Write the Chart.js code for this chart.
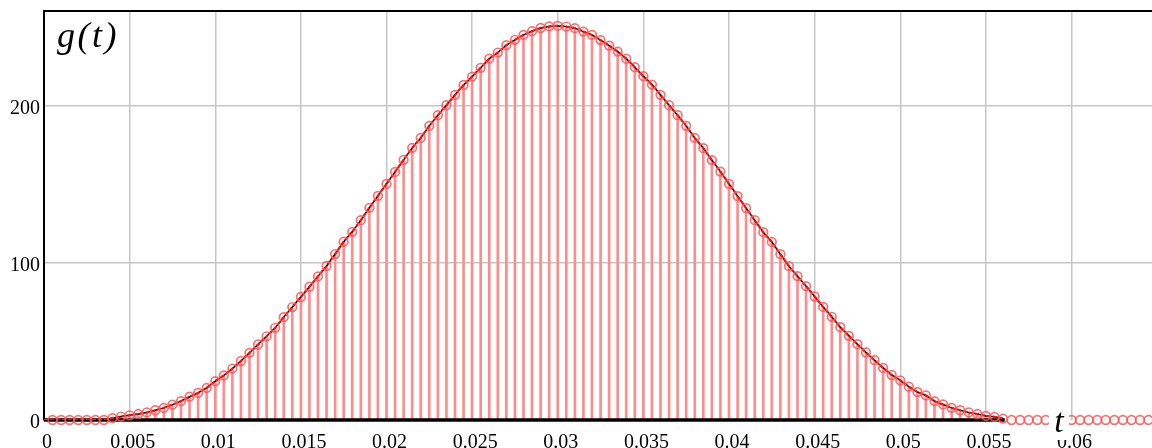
<!DOCTYPE html>
<html><head><meta charset="utf-8">
<script src="https://cdn.jsdelivr.net/npm/chart.js@4/dist/chart.umd.min.js"></script>
<style>
html,body{margin:0;padding:0;background:#fff;}
#wrap{position:relative;width:1152px;height:448px;overflow:hidden;}
canvas{display:block;}
.lbl{position:absolute;font-family:"Liberation Serif","Times New Roman",serif;font-style:italic;color:#000;line-height:1;white-space:nowrap;}
</style></head><body>
<div id="wrap"><canvas id="c" width="1152" height="448"></canvas>
<div class="lbl" id="gt" style="left:57px;top:17px;font-size:36px;letter-spacing:2.5px;">g(t)</div>
<div class="lbl" id="tl" style="left:1049px;top:404px;width:20px;height:36px;background:#fff;font-size:34px;text-align:center;">t</div>
</div>
<script>
// sample step of t (s)
const stepT = 0.0005;
const sampleG = [
  0, 0, 0, 0, 0, 0, 0, 1.2, 2.2, 3.0,
  3.8, 4.8, 6.2, 7.7, 9.8, 12.0, 14.8, 17.2, 20.4, 24.7,
  28.3, 32.7, 37.5, 42.7, 48.0, 53.2, 58.6, 65.4, 71.8, 78.2,
  84.7, 91.3, 97.9, 105.5, 113.3, 119.6, 127.0, 134.9, 142.5, 150.1,
  157.7, 165.4, 173.0, 179.3, 187.0, 193.8, 200.1, 206.7, 213.0, 218.3,
  223.9, 229.7, 233.6, 238.3, 241.7, 244.8, 247.2, 249.2, 250.2, 250.5,
  250.1, 249.1, 246.9, 244.8, 241.5, 238.0, 234.2, 229.7, 224.3, 218.6,
  213.2, 206.7, 200.1, 193.8, 187.0, 179.3, 172.8, 165.2, 157.9, 150.1,
  142.3, 134.7, 127.0, 119.4, 113.2, 105.4, 97.8, 91.4, 85.1, 78.5,
  71.9, 65.6, 59.0, 53.5, 48.2, 42.9, 38.0, 33.1, 28.6, 25.2,
  21.2, 17.8, 15.6, 12.0, 9.9, 7.7, 6.2, 4.8, 3.8, 2.6,
  2.0, 0.9, 0, 0, 0, 0, 0, 0, 0, 0,
  0, 0, 0, 0, 0, 0, 0, 0, 0
];
const sampleT = sampleG.map((_, i) => +((i + 1) * stepT).toFixed(4));
// continuous curve g(t) drawn from t = 0 to 0.056
const curveEndIndex = 112;
const curveT = [0].concat(sampleT.slice(0, curveEndIndex));
const curveG = [0].concat(sampleG.slice(0, curveEndIndex));
// black base segment along g = 0
const baselineT = [0, 0.0561];
const baselineG = [0, 0];
// axes
const xTickValues = [0, 0.005, 0.01, 0.015, 0.02, 0.025, 0.03, 0.035, 0.04, 0.045, 0.05, 0.055, 0.06];
const xTickLabels = ['0', '0.005', '0.01', '0.015', '0.02', '0.025', '0.03', '0.035', '0.04', '0.045', '0.05', '0.055', '0.06'];
const yTickValues = [0, 100, 200];
const yTickLabels = ['0', '100', '200'];
const xMax = 0.0647, yMax = 260;

const pts = (xs, ys) => xs.map((x, i) => ({x: x, y: ys[i]}));
const tickFont = {family: '"Liberation Serif", "Times New Roman", serif', size: 20};
const gridCol = '#c6c6c6';

const topBorder = {
  id: 'topBorder',
  afterDatasetsDraw(chart) {
    const a = chart.chartArea, ctx = chart.ctx;
    ctx.save();
    ctx.strokeStyle = '#000';
    ctx.lineWidth = 2;
    ctx.beginPath();
    ctx.moveTo(a.left - 1, a.top);
    ctx.lineTo(a.right, a.top);
    ctx.stroke();
    ctx.restore();
  }
};

new Chart(document.getElementById('c'), {
  type: 'line',
  data: {
    datasets: [
      {
        type: 'line', label: 'samples', data: pts(sampleT, sampleG), showLine: false,
        pointRadius: 4.3, pointBorderWidth: 1.7, pointBorderColor: 'rgba(255,85,85,0.85)',
        pointBackgroundColor: 'rgba(255,255,255,0)', order: 0, clip: false
      },
      {
        type: 'line', label: 'curveRed', data: pts(curveT, curveG), borderColor: '#ff1010',
        borderWidth: 2.2, borderDash: [4, 2], pointRadius: 0, order: 1, tension: 0
      },
      {
        type: 'line', label: 'curve', data: pts(curveT, curveG), borderColor: '#000',
        borderWidth: 1.5, pointRadius: 0, order: 2, tension: 0
      },
      {
        type: 'line', label: 'base', data: pts(baselineT, baselineG), borderColor: '#000',
        borderWidth: 3.5, pointRadius: 0, order: 3, clip: false
      },
      {
        type: 'bar', label: 'stems', data: pts(sampleT, sampleG), backgroundColor: '#ff8c8c',
        barThickness: 2, grouped: false, order: 4
      }
    ]
  },
  options: {
    responsive: false,
    devicePixelRatio: 1,
    animation: false,
    layout: {autoPadding: false, padding: {left: 0, top: 11, right: 0, bottom: 0}},
    plugins: {legend: {display: false}, tooltip: {enabled: false}},
    scales: {
      x: {
        type: 'linear', min: 0, max: xMax, offset: false,
        afterBuildTicks: s => { s.ticks = xTickValues.map(v => ({value: v})); },
        afterFit: s => { s.height = 28; s.paddingLeft = 0; s.paddingRight = 0; },
        grid: {color: gridCol, lineWidth: 1.5, drawTicks: false, offset: false},
        border: {display: false},
        ticks: {
          color: '#000', font: tickFont, padding: 11, labelOffset: 3,
          maxRotation: 0, autoSkip: false,
          callback: (v, i) => xTickLabels[i]
        }
      },
      y: {
        type: 'linear', min: 0, max: yMax,
        afterBuildTicks: s => { s.ticks = yTickValues.map(v => ({value: v})); },
        afterFit: s => { s.width = 44; s.paddingTop = 0; s.paddingBottom = 0; },
        grid: {color: c => (c.tick && c.tick.value === 0 ? 'rgba(0,0,0,0)' : gridCol), lineWidth: 1.5, drawTicks: false, offset: false},
        border: {color: '#000', width: 2},
        ticks: {
          color: '#000', font: tickFont, padding: 4, labelOffset: 3,
          callback: (v, i) => yTickLabels[i]
        }
      }
    }
  },
  plugins: [topBorder]
});
</script>
</body></html>
